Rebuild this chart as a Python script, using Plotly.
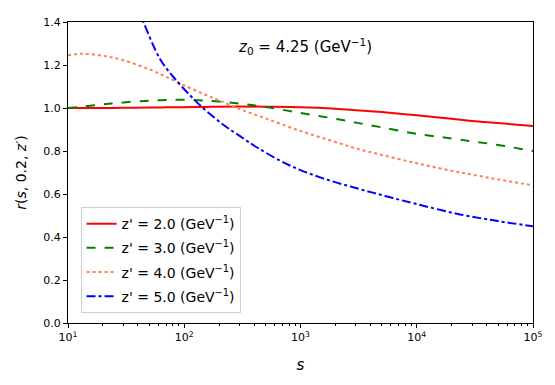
import plotly.graph_objects as go

s_vals = [10, 13, 20, 30, 50, 70, 100, 150, 200, 300, 500, 1000, 2000, 3000, 5000, 10000, 20000, 30000, 50000, 100000]
r_z2 = [1.000, 1.000, 1.000, 1.001, 1.002, 1.003, 1.004, 1.005, 1.006, 1.007, 1.006, 1.004, 0.997, 0.990, 0.981, 0.966, 0.950, 0.940, 0.930, 0.916]
r_z3 = [1.000, 1.006, 1.017, 1.026, 1.034, 1.037, 1.038, 1.035, 1.030, 1.020, 1.005, 0.977, 0.950, 0.932, 0.910, 0.880, 0.858, 0.845, 0.828, 0.800]
r_z4 = [1.245, 1.252, 1.243, 1.222, 1.180, 1.145, 1.105, 1.063, 1.035, 0.995, 0.952, 0.893, 0.842, 0.812, 0.782, 0.743, 0.708, 0.690, 0.668, 0.640]
s_blue = [40, 44.5, 62, 81, 112, 141, 217, 302, 430, 785, 1520, 2940, 5330, 10000, 23500, 50000, 100000]
r_z5 = [1.46, 1.400, 1.227, 1.143, 1.059, 1.006, 0.922, 0.869, 0.814, 0.736, 0.675, 0.629, 0.591, 0.553, 0.505, 0.474, 0.450]

names = ["z' = 2.0 (GeV<sup>−1</sup>)", "z' = 3.0 (GeV<sup>−1</sup>)",
         "z' = 4.0 (GeV<sup>−1</sup>)", "z' = 5.0 (GeV<sup>−1</sup>)"]
colors = ["red", "green", "coral", "blue"]
dashes = ["solid", "dash", "dot", "dashdot"]

x_ticks = [10, 100, 1000, 10000, 100000]
x_ticktext = ["10<sup>1</sup>", "10<sup>2</sup>", "10<sup>3</sup>", "10<sup>4</sup>", "10<sup>5</sup>"]
y_ticks = [0.0, 0.2, 0.4, 0.6, 0.8, 1.0, 1.2, 1.4]

minor_vals = [m * 10 ** e for e in range(1, 5) for m in range(2, 10)]

fig = go.Figure()
series = [(s_vals, r_z2), (s_vals, r_z3), (s_vals, r_z4), (s_blue, r_z5)]
for i, ((xs, ys), n, c, d) in enumerate(zip(series, names, colors, dashes)):
    fig.add_trace(go.Scatter(x=xs, y=ys, mode="lines", name=n, legendgroup=f"g{i}",
                             line=dict(color=c, dash=d, width=2, shape="spline", smoothing=1.0)))

font = "DejaVu Sans, sans-serif"
fig.update_layout(
    width=547, height=377,
    margin=dict(l=60, r=22, t=8, b=62),
    paper_bgcolor="white", plot_bgcolor="white",
    font=dict(family=font, size=10, color="black"),
    showlegend=True,
    legend=dict(x=0.027, y=0.033, xanchor="left", yanchor="bottom",
                bgcolor="rgba(255,255,255,0.8)", bordercolor="#d0d0d0", borderwidth=1,
                font=dict(size=14), tracegroupgap=3, itemwidth=30),
    annotations=[dict(x=0.51, y=0.92, xref="paper", yref="paper", xanchor="center", yanchor="middle",
                      text="<i>z</i><sub>0</sub> = 4.25 (GeV<sup>−1</sup>)", showarrow=False,
                      font=dict(size=15, family=font))],
)
fig.update_xaxes(type="log", range=[1, 5], tickvals=x_ticks, ticktext=x_ticktext,
                 ticks="outside", ticklen=4, tickcolor="black", showgrid=False, zeroline=False,
                 showline=True, linecolor="black", mirror=True, linewidth=1,
                 tickfont=dict(size=11),
                 minor=dict(tickvals=minor_vals, ticks="outside", ticklen=2, tickcolor="black", showgrid=False),
                 title=dict(text="<i>s</i>", font=dict(size=15), standoff=16))
fig.update_yaxes(range=[0, 1.4], tickvals=y_ticks, ticktext=[f"{v:.1f}" for v in y_ticks],
                 ticks="outside", ticklen=4, tickcolor="black", showgrid=False, zeroline=False,
                 showline=True, linecolor="black", mirror=True, linewidth=1,
                 tickfont=dict(size=11),
                 title=dict(text="<i>r</i>(<i>s</i>, 0.2, <i>z′</i>)", font=dict(size=14), standoff=13))

fig.write_html("out.html")
